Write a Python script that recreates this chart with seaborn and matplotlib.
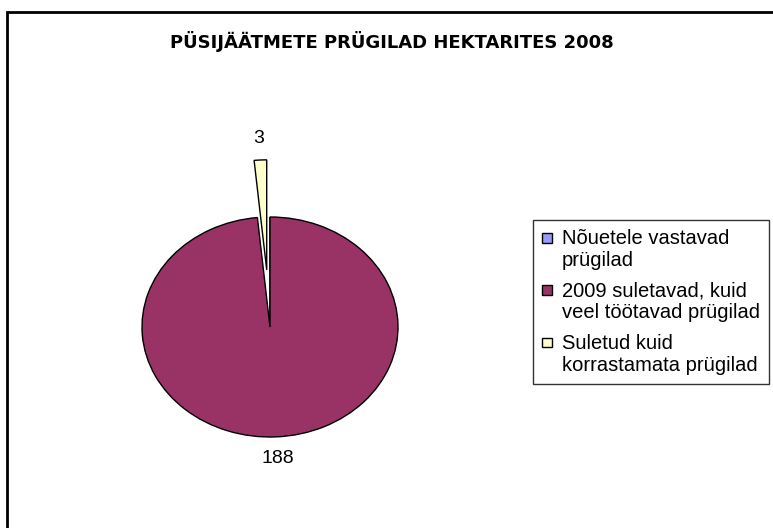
import matplotlib
matplotlib.use("Agg")
import matplotlib.pyplot as plt
import seaborn as sns
from matplotlib.patches import Rectangle
from matplotlib.legend_handler import HandlerPatch

categories = ["Nõuetele vastavad\nprügilad",
              "2009 suletavad, kuid\nveel töötavad prügilad",
              "Suletud kuid\nkorrastamata prügilad"]
values = [0, 188, 3]
colors = ["#9999FF", "#993366", "#FFFFCC"]
title = "PÜSIJÄÄTMETE PRÜGILAD HEKTARITES 2008"

sns.set_theme(style="white")
plt.rcParams['font.family'] = ['Liberation Sans', 'DejaVu Sans']
plt.rcParams['text.color'] = 'black'

W, H = 773, 528
fig = plt.figure(figsize=(W / 100, H / 100), dpi=100)
fig.patch.set_facecolor("white")

# Outer chart frame (only top and left visible)
fig.patches.append(Rectangle((7 / W, -0.2), 2.0, 1.2 - 12 / H,
                             transform=fig.transFigure, fill=False,
                             edgecolor="black", linewidth=2.0, zorder=0))

cx, cy, rx, ry = 270, 327, 128, 110
lim = 1.6
ax = fig.add_axes([(cx - lim * rx) / W, (H - cy - lim * ry) / H,
                   2 * lim * rx / W, 2 * lim * ry / H])
pal = sns.color_palette(colors)
total = sum(values)

wedges, texts, autotexts = ax.pie(
    values, colors=pal, startangle=90, counterclock=False,
    explode=[0, 0, 0.52],
    autopct=lambda p: "" if p == 0 else f"{p * total / 100:.0f}",
    pctdistance=1.2,
    wedgeprops=dict(edgecolor="black", linewidth=1.0),
    textprops=dict(fontsize=14, color="black"))
ax.set_aspect("auto")
ax.set_xlim(-lim, lim)
ax.set_ylim(-lim, lim)
ax.axis("off")

fig.text(392 / W, 1 - 42 / H, title, ha="center", va="center", color="black",
         fontsize=13, fontweight="bold", family=["DejaVu Sans"])


def top_square(legend, orig_handle, xdescent, ydescent, width, height, fontsize):
    sq = 0.48 * fontsize
    return Rectangle((-xdescent, -ydescent + height - sq + 0.1 * fontsize), sq, sq)


leg = fig.legend(wedges, categories, loc="upper left",
                 bbox_to_anchor=(533 / W, 1 - 220 / H),
                 bbox_transform=fig.transFigure, borderaxespad=0,
                 fontsize=14.5, frameon=True, fancybox=False, shadow=False,
                 handlelength=0.48, handleheight=2.0, handletextpad=0.5,
                 labelspacing=0.58, borderpad=0.45,
                 handler_map={w: HandlerPatch(patch_func=top_square) for w in wedges})
for t in leg.get_texts():
    t.set_linespacing(1.18)
    t.set_color("black")
leg.get_frame().set_edgecolor("black")
leg.get_frame().set_linewidth(1.0)

fig.savefig("out.png", dpi=100, facecolor="white")
